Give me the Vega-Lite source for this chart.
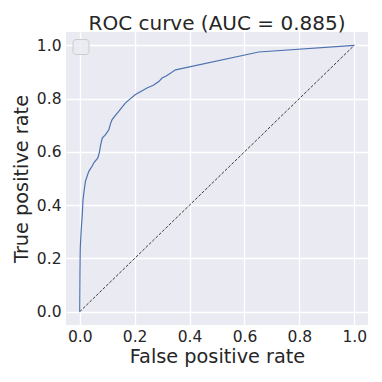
{
  "$schema": "https://vega.github.io/schema/vega-lite/v6.json",
  "autosize": "none",
  "width": 302,
  "height": 293,
  "padding": {"left": 66, "top": 32, "right": 14, "bottom": 57},
  "background": "white",
  "title": {"text": "ROC curve (AUC = 0.885)", "font": "DejaVu Sans", "fontSize": 20, "fontWeight": "normal", "color": "#262626", "baseline": "alphabetic", "offset": -18},
  "datasets": {
    "roc": [
      {"fpr": 0, "tpr": 0},
      {"fpr": 0.001, "tpr": 0.15},
      {"fpr": 0.002, "tpr": 0.24},
      {"fpr": 0.005, "tpr": 0.3},
      {"fpr": 0.009, "tpr": 0.36},
      {"fpr": 0.012, "tpr": 0.42},
      {"fpr": 0.016, "tpr": 0.455},
      {"fpr": 0.021, "tpr": 0.49},
      {"fpr": 0.033, "tpr": 0.527},
      {"fpr": 0.045, "tpr": 0.546},
      {"fpr": 0.052, "tpr": 0.56},
      {"fpr": 0.066, "tpr": 0.577},
      {"fpr": 0.072, "tpr": 0.6},
      {"fpr": 0.076, "tpr": 0.625},
      {"fpr": 0.082, "tpr": 0.652},
      {"fpr": 0.094, "tpr": 0.665},
      {"fpr": 0.106, "tpr": 0.683},
      {"fpr": 0.112, "tpr": 0.705},
      {"fpr": 0.118, "tpr": 0.721},
      {"fpr": 0.13, "tpr": 0.737},
      {"fpr": 0.142, "tpr": 0.752},
      {"fpr": 0.166, "tpr": 0.783},
      {"fpr": 0.185, "tpr": 0.8},
      {"fpr": 0.203, "tpr": 0.815},
      {"fpr": 0.245, "tpr": 0.84},
      {"fpr": 0.268, "tpr": 0.85},
      {"fpr": 0.288, "tpr": 0.864},
      {"fpr": 0.3, "tpr": 0.877},
      {"fpr": 0.315, "tpr": 0.885},
      {"fpr": 0.349, "tpr": 0.908},
      {"fpr": 0.652, "tpr": 0.975},
      {"fpr": 1.0, "tpr": 1.0}
    ],
    "diag": [
      {"fpr": 0, "tpr": 0},
      {"fpr": 1, "tpr": 1}
    ],
    "leg": [
      {"fpr": 0, "tpr": 0, "s": "a"}
    ]
  },
  "encoding": {
    "x": {"field": "fpr", "type": "quantitative", "title": "False positive rate",
      "scale": {"domain": [-0.05, 1.05], "nice": false, "zero": false},
      "axis": {"values": [0, 0.2, 0.4, 0.6, 0.8, 1.0], "format": ".1f"}},
    "y": {"field": "tpr", "type": "quantitative", "title": "True positive rate",
      "scale": {"domain": [-0.05, 1.05], "nice": false, "zero": false},
      "axis": {"values": [0, 0.2, 0.4, 0.6, 0.8, 1.0], "format": ".1f"}}
  },
  "layer": [
    {"data": {"name": "diag"}, "mark": {"type": "line", "color": "#262626", "strokeWidth": 0.9, "strokeDash": [3, 1.6]}},
    {"data": {"name": "roc"}, "mark": {"type": "line", "color": "#4c72b0", "strokeWidth": 1.2}},
    {"data": {"name": "leg"}, "mark": {"type": "point", "size": 0, "opacity": 0},
      "encoding": {"color": {"field": "s", "type": "nominal", "scale": {"range": ["transparent"]},
        "legend": {"orient": "none", "legendX": 6.5, "legendY": 7, "title": null, "labelExpr": "''", "symbolSize": 1, "symbolOpacity": 0, "labelFontSize": 1, "labelOffset": 0, "padding": 6.5, "fillColor": "rgba(234,234,242,0.8)", "strokeColor": "#cccccc", "cornerRadius": 3}}}}
  ],
  "config": {
    "font": "DejaVu Sans",
    "view": {"fill": "#eaeaf2", "stroke": null},
    "axis": {"domain": false, "ticks": false, "grid": true, "gridColor": "white", "gridWidth": 1.3,
      "labelFont": "DejaVu Sans", "labelFontSize": 15.5, "labelColor": "#262626", "labelPadding": 5,
      "titleFont": "DejaVu Sans", "titleFontSize": 19.3, "titleFontWeight": "normal", "titleColor": "#262626"},
    "axisX": {"labelPadding": 4, "titlePadding": 3},
    "axisY": {"titlePadding": 5}
  }
}
